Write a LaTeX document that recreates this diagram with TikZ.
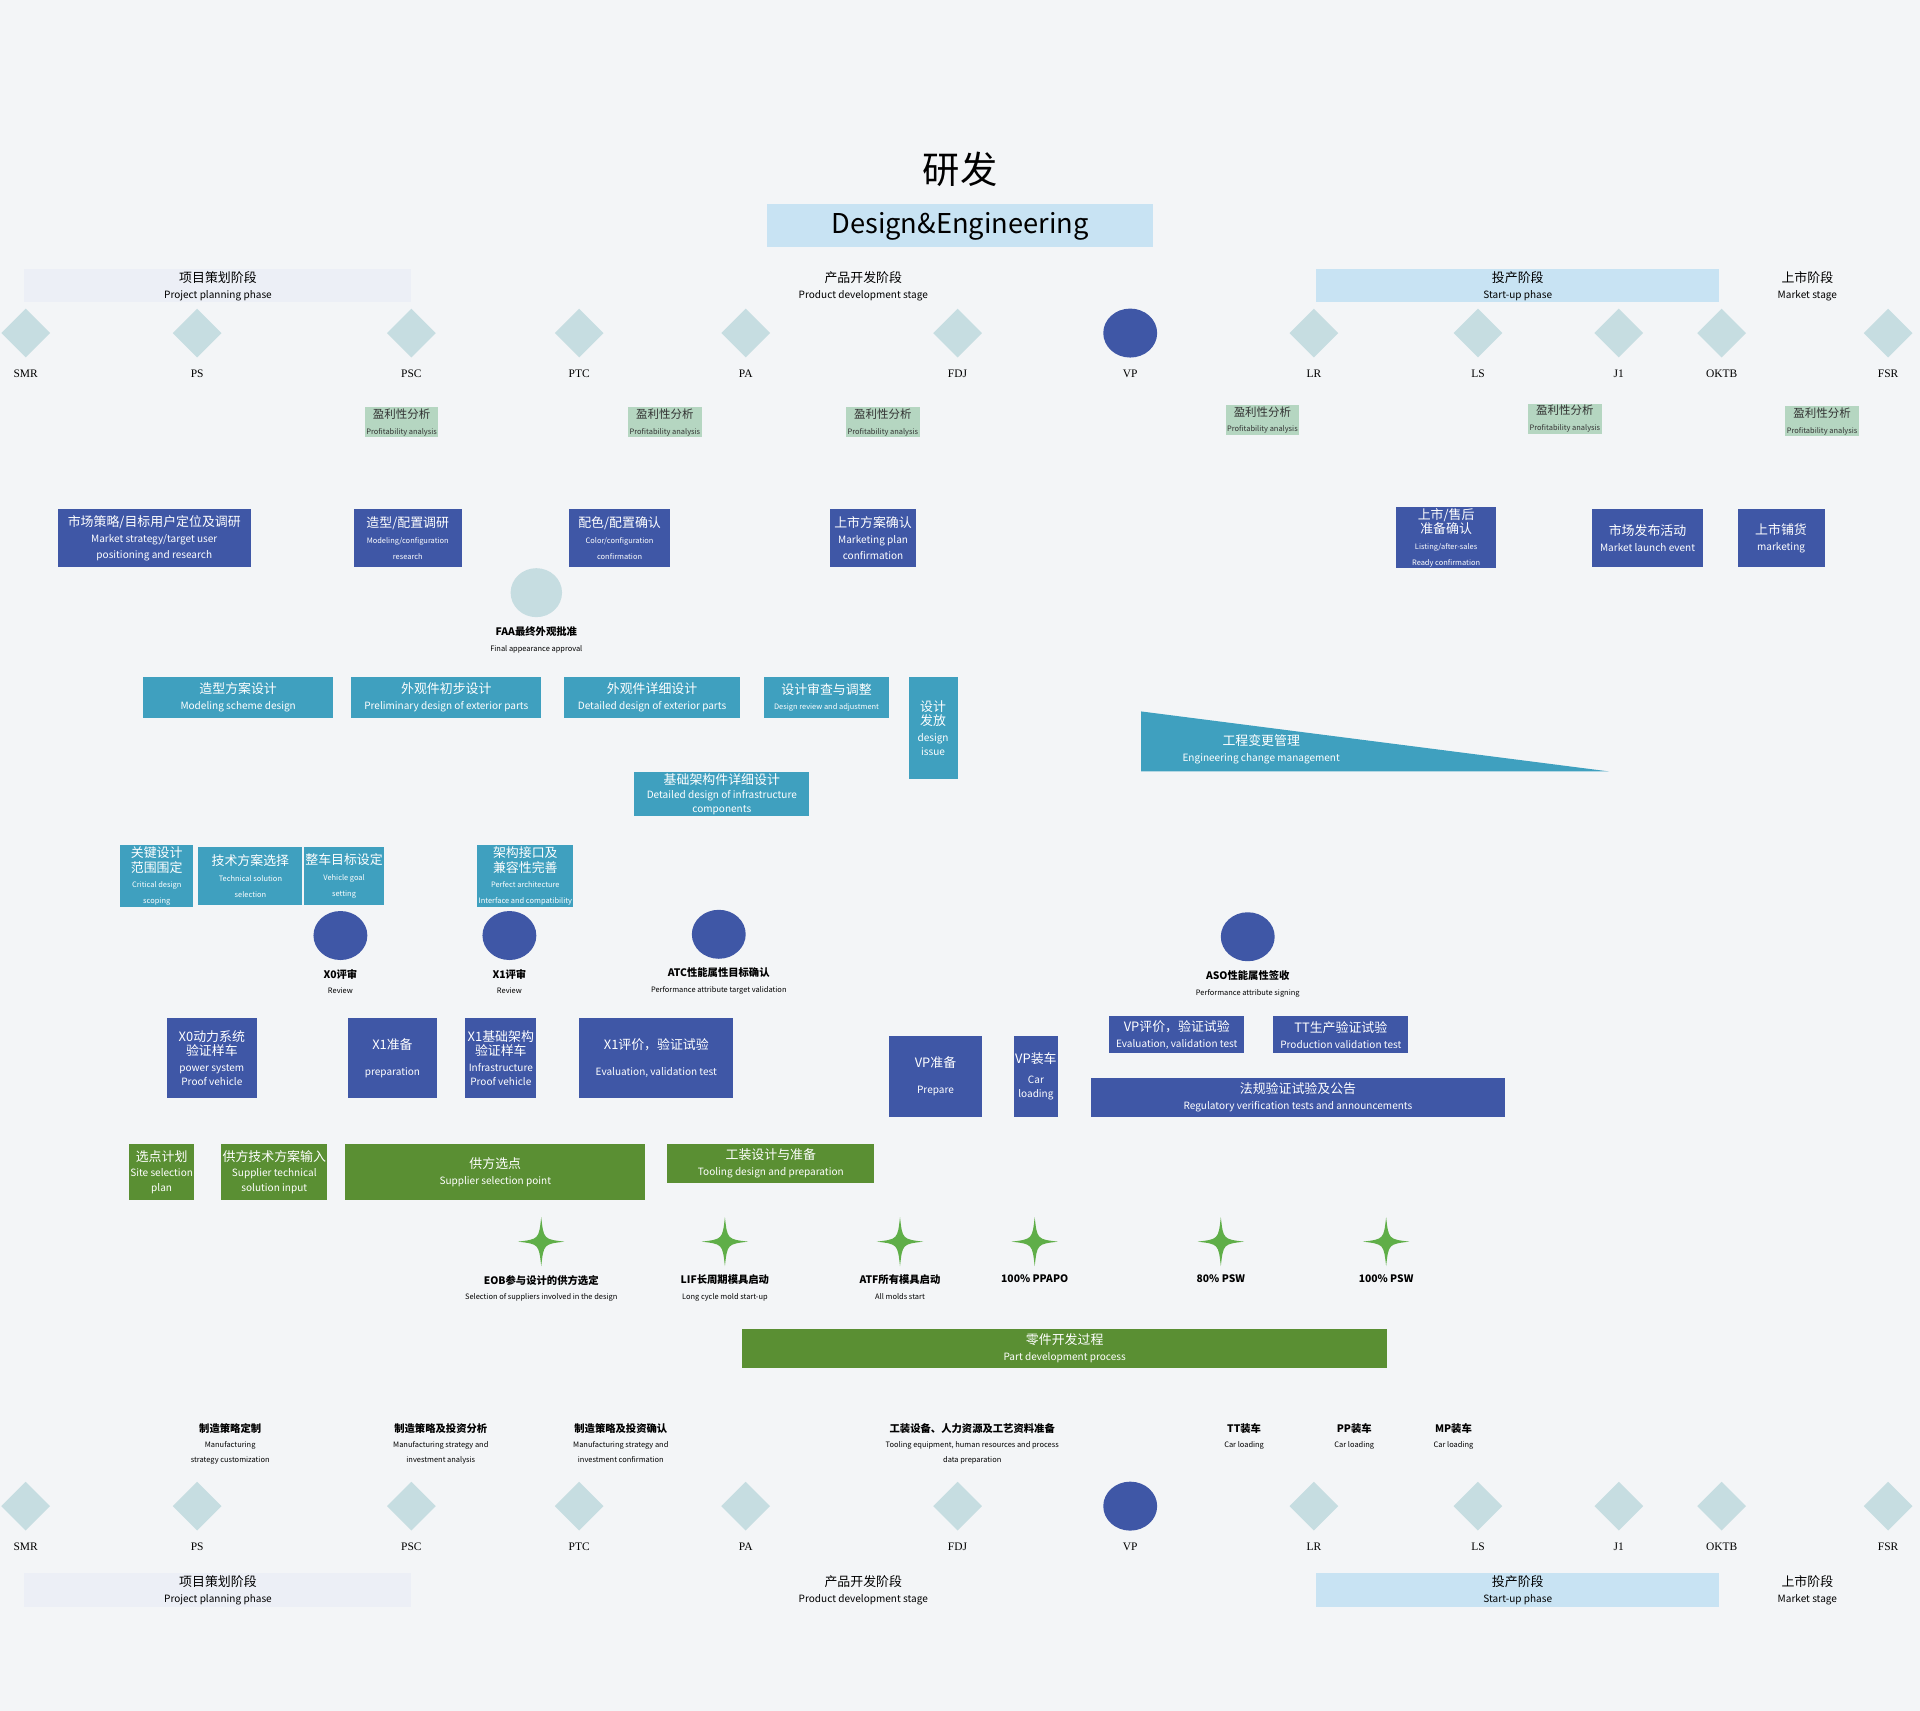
\documentclass[tikz,border=0pt]{standalone}
\usepackage{fontspec}
\setmainfont{Noto Sans CJK SC}
\newfontfamily\lblfont{Liberation Serif}
\usetikzlibrary{shapes.geometric,positioning}

\definecolor{bgc}{HTML}{F3F5F7}
\definecolor{navy}{HTML}{3F57A6}
\definecolor{teal}{HTML}{3FA0BF}
\definecolor{leaf}{HTML}{5A8F33}
\definecolor{ice}{HTML}{C6DDE1}
\definecolor{mint}{HTML}{B5D6C1}
\definecolor{sky}{HTML}{C8E3F3}
\definecolor{mist}{HTML}{ECEFF6}
\definecolor{spark}{HTML}{5FAE48}

\newcommand\zh{\fontsize{9}{10.5}\selectfont}
\newcommand\en{\fontsize{7}{8}\selectfont}
\newcommand\tn{\fontsize{5.2}{6}\selectfont}
\newcommand\sm{\fontsize{7.2}{8}\selectfont\bfseries}
% box from corner to corner
\newcommand\bx[7]{\node[#1, minimum width={(#5-#3)*0.03cm}, minimum height={(#6-#4)*0.03cm}] (#2) at ({(#3+#5)/2},{(#4+#6)/2}) {#7};}

\begin{document}
\begin{tikzpicture}[x=0.03cm, y=-0.03cm]
\tikzset{
  card/.style = {rectangle, inner sep=1pt, align=center, text=white},
  nv/.style = {card, fill=navy},
  tl/.style = {card, fill=teal},
  gr/.style = {card, fill=leaf},
  pf/.style = {card, fill=mint, text=black!80},
  ph/.style = {rectangle, inner sep=0pt, align=center, text=black},
  ms/.style = {diamond, fill=ice, inner sep=0pt, minimum width=1.2cm, minimum height=1.2cm},
  dot/.style = {ellipse, fill=navy, inner sep=0pt, minimum width=1.32cm, minimum height=1.2cm},
  lbl/.style = {align=center, text=black, inner sep=0pt}
}
\useasboundingbox (0,0) rectangle (1568,1397);
\fill[bgc] (0,0) rectangle (1568,1397);

% Title
\node[lbl] (title) at (784,138) {\fontsize{26}{28}\selectfont 研发};
\bx{ph, fill=sky}{de}{626}{167}{942}{202}{\fontsize{19}{22}\selectfont Design\&Engineering}

% Phase bars
\foreach \yy/\tag in {220/t, 1285/b}{
  \bx{ph, fill=mist}{plan\tag}{20}{\yy}{336}{\yy+27}{\zh 项目策划阶段\\[-1pt]\en Project planning phase}
  \bx{ph}{dev\tag}{560}{\yy}{850}{\yy+27}{\zh 产品开发阶段\\[-1pt]\en Product development stage}
  \bx{ph, fill=sky}{sup\tag}{1075}{\yy}{1404}{\yy+27}{\zh 投产阶段\\[-1pt]\en Start-up phase}
  \bx{ph}{mkt\tag}{1420}{\yy}{1532}{\yy+27}{\zh 上市阶段\\[-1pt]\en Market stage}
}

% Milestones
\foreach \yy/\tag in {272/m, 1230/n}{
  \foreach \x/\nm in {21/SMR, 161/PS, 336/PSC, 473/PTC, 609/PA, 782/FDJ, 1073/LR, 1207/LS, 1322/J1, 1406/OKTB, 1542/FSR}{
    \node[ms] (\tag\nm) at (\x,\yy) {};
    \node[lbl, below=8pt of \tag\nm] {\lblfont\fontsize{8}{8}\selectfont \nm};
  }
  \node[dot] (\tag VP) at (923,\yy) {};
  \node[lbl, below=8pt of \tag VP] {\lblfont\fontsize{8}{8}\selectfont VP};
}

% Profitability
\foreach \x/\yy [count=\i] in {328/345, 543/345, 721/345, 1031/343, 1278/342, 1488/344}{
  \bx{pf}{pa\i}{\x-35}{\yy-15}{\x+35}{\yy+15}{\fontsize{8}{9}\selectfont 盈利性分析\\[-1pt]\tn Profitability analysis}
}

% Navy row one
\bx{nv}{mktres}{47}{416}{205}{463}{\zh 市场策略/目标用户定位及调研\\[-1pt]\en Market strategy/target user\\[-1pt]\en positioning and research}
\bx{nv}{modres}{289}{416}{377}{463}{\zh 造型/配置调研\\[-1pt]\tn Modeling/configuration\\[-1pt]\tn research}
\bx{nv}{colcf}{465}{416}{547}{463}{\zh 配色/配置确认\\[-1pt]\tn Color/configuration\\[-1pt]\tn confirmation}
\bx{nv}{mpcf}{678}{416}{748}{463}{\zh 上市方案确认\\[-1pt]\en Marketing plan\\[-1pt]\en confirmation}
\bx{nv}{aftcf}{1140}{415}{1222}{463}{\zh 上市/售后\\[-2pt]\zh 准备确认\\[-1pt]\tn Listing/after-sales\\[-1pt]\tn Ready confirmation}
\bx{nv}{launch}{1300}{416}{1391}{463}{\zh 市场发布活动\\[-1pt]\en Market launch event}
\bx{nv}{retail}{1419}{416}{1490}{463}{\zh 上市铺货\\[-1pt]\en marketing}

% FAA
\node[ellipse, fill=ice, minimum width=1.26cm, minimum height=1.2cm, inner sep=0pt] (faa) at (438,484) {};
\node[lbl, below=6pt of faa] (faat) {\sm FAA最终外观批准\\[-1pt]\tn Final appearance approval};

% Teal rows
\bx{tl}{msd}{117}{553}{272}{586}{\zh 造型方案设计\\[-1pt]\en Modeling scheme design}
\bx{tl}{pde}{287}{553}{442}{586}{\zh 外观件初步设计\\[-1pt]\en Preliminary design of exterior parts}
\bx{tl}{dde}{461}{553}{604}{586}{\zh 外观件详细设计\\[-1pt]\en Detailed design of exterior parts}
\bx{tl}{dra}{624}{553}{726}{586}{\zh 设计审查与调整\\[-1pt]\tn Design review and adjustment}
\bx{tl}{diss}{742}{553}{782}{636}{\zh 设计\\[-2pt]\zh 发放\\[-1pt]\en design\\[-2pt]\en issue}
\bx{tl}{dic}{518}{632}{661}{665}{\zh 基础架构件详细设计\\[-2pt]\en Detailed design of infrastructure\\[-2pt]\en components}
\fill[teal] (932,581) -- (932,630) -- (1314,630) -- cycle;
\node[lbl, text=white] (ecm) at (1030,612) {\zh 工程变更管理\\[-1pt]\en Engineering change management};

\bx{tl}{cds}{98}{692}{158}{739}{\zh 关键设计\\[-2pt]\zh 范围围定\\[-1pt]\tn Critical design\\[-1pt]\tn scoping}
\bx{tl}{tss}{162}{692}{247}{739}{\zh 技术方案选择\\[-1pt]\tn Technical solution\\[-1pt]\tn selection}
\bx{tl}{vgs}{251}{692}{311}{739}{\zh 整车目标设定\\[-1pt]\tn Vehicle goal\\[-1pt]\tn setting}
\bx{tl}{pai}{391}{692}{467}{739}{\zh 架构接口及\\[-2pt]\zh 兼容性完善\\[-1pt]\tn Perfect architecture\\[-1pt]\tn Interface and compatibility}

% Reviews
\foreach \x/\yy/\nm/\zt/\et in {278/764/xzr/X0评审/Review, 416/764/xor/X1评审/Review, 587/763/atc/ATC性能属性目标确认/Performance attribute target validation, 1019/765/aso/ASO性能属性签收/Performance attribute signing}{
  \node[dot] (\nm) at (\x,\yy) {};
  \node[lbl, below=6pt of \nm] {\sm \zt\\[-1pt]\tn \et};
}

% Navy row two
\bx{nv}{xzpv}{136}{831}{210}{897}{\zh X0动力系统\\[-2pt]\zh 验证样车\\[-1pt]\en power system\\[-2pt]\en Proof vehicle}
\bx{nv}{xop}{284}{831}{357}{897}{\zh X1准备\\[6pt]\en preparation}
\bx{nv}{xoipv}{380}{831}{438}{897}{\zh X1基础架构\\[-2pt]\zh 验证样车\\[-1pt]\en Infrastructure\\[-2pt]\en Proof vehicle}
\bx{nv}{xoev}{473}{831}{599}{897}{\zh X1评价，验证试验\\[6pt]\en Evaluation, validation test}
\bx{nv}{vpp}{726}{846}{802}{912}{\zh VP准备\\[6pt]\en Prepare}
\bx{nv}{vpcl}{828}{846}{864}{912}{\zh VP装车\\[2pt]\en Car\\[-2pt]\en loading}
\bx{nv}{vpev}{906}{830}{1016}{860}{\zh VP评价，验证试验\\[-1pt]\en Evaluation, validation test}
\bx{nv}{ttpv}{1040}{830}{1150}{860}{\zh TT生产验证试验\\[-1pt]\en Production validation test}
\bx{nv}{regv}{891}{880}{1229}{912}{\zh 法规验证试验及公告\\[-1pt]\en Regulatory verification tests and announcements}

% Green row
\bx{gr}{ssp}{107}{934}{157}{980}{\zh 选点计划\\[-1pt]\en Site selection\\[-2pt]\en plan}
\bx{gr}{sti}{182}{934}{266}{980}{\zh 供方技术方案输入\\[-1pt]\en Supplier technical\\[-2pt]\en solution input}
\bx{gr}{ssel}{282}{934}{527}{980}{\zh 供方选点\\[-1pt]\en Supplier selection point}
\bx{gr}{tdp}{545}{934}{714}{966}{\zh 工装设计与准备\\[-1pt]\en Tooling design and preparation}

% Sparks
\foreach \x/\nm/\zt/\et in {442/eob/EOB参与设计的供方选定/Selection of suppliers involved in the design, 592/lif/LIF长周期模具启动/Long cycle mold start-up, 735/atf/ATF所有模具启动/All molds start, 845/ppapo/100\% PPAPO/, 997/psweighty/80\% PSW/, 1132/pswfull/100\% PSW/}{
  \fill[spark] (\x,994) .. controls (\x+2,1012) .. (\x+19,1014) .. controls (\x+2,1016) .. (\x,1034) .. controls (\x-2,1016) .. (\x-19,1014) .. controls (\x-2,1012) .. (\x,994) -- cycle;
  \coordinate (\nm) at (\x,1034);
  \node[lbl, below=6pt of \nm] {\sm \zt\\[-1pt]\tn \et};
}
\bx{gr}{pdp}{606}{1085}{1133}{1117}{\zh 零件开发过程\\[-1pt]\en Part development process}

% Manufacturing notes
\foreach \x/\nm/\zt/\et in {188/mfa/制造策略定制/{Manufacturing\\[-2pt]\tn strategy customization}, 360/mfb/制造策略及投资分析/{Manufacturing strategy and\\[-2pt]\tn investment analysis}, 507/mfc/制造策略及投资确认/{Manufacturing strategy and\\[-2pt]\tn investment confirmation}, 794/mfd/工装设备、人力资源及工艺资料准备/{Tooling equipment, human resources and process\\[-2pt]\tn data preparation}, 1016/mfe/TT装车/Car loading, 1106/mff/PP装车/Car loading, 1187/mfg/MP装车/Car loading}{
  \node[lbl, anchor=north] (\nm) at (\x,1162) {\sm \zt\\[-1pt]\tn \et};
}
\end{tikzpicture}
\end{document}
